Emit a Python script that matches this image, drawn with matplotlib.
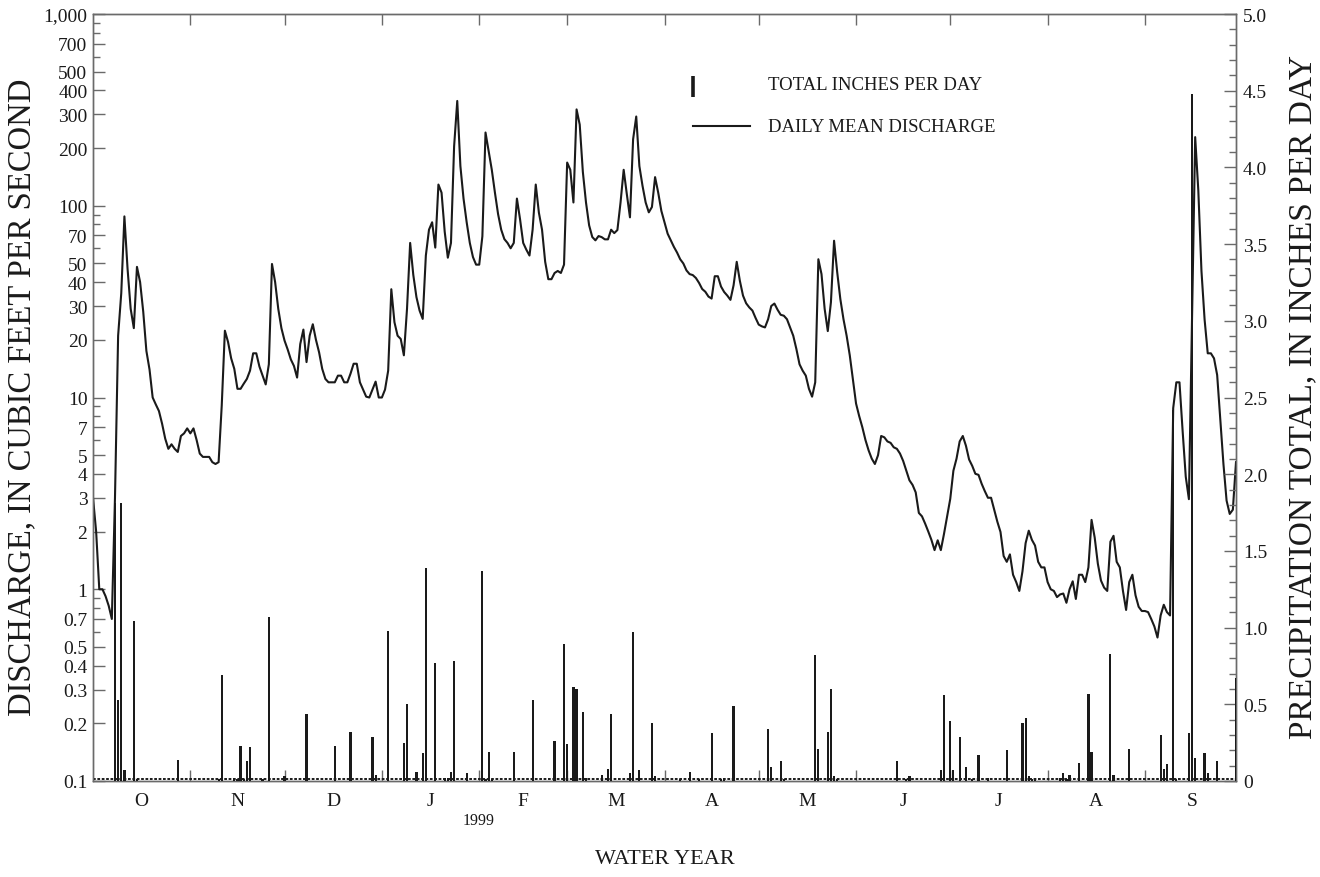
import numpy as np
import matplotlib
matplotlib.use("Agg")
import matplotlib.pyplot as plt
from matplotlib.ticker import FixedLocator, FixedFormatter, NullFormatter
from matplotlib.lines import Line2D

plt.rcParams['font.family'] = ['Liberation Serif', 'DejaVu Serif']

# Daily mean discharge, water year 1999 (cubic feet per second)
q_oct = [3.0, 2.0, 1.0, 1.0, 0.92, 0.82, 0.70, 3.0, 21, 35, 88, 47, 29, 23, 48, 40,
         28, 17.5, 14, 10, 9.2, 8.5, 7.3, 6.1, 5.4, 5.7, 5.4, 5.2, 6.3, 6.5, 6.9]
q_nov = [6.5, 6.9, 6.0, 5.1, 4.9, 4.9, 4.9, 4.6, 4.5, 4.6, 9.1, 22.3, 19.5, 16, 14.1,
         11.1, 11.1, 11.8, 12.5, 13.8, 17, 17, 14.5, 13, 11.7, 14.9, 49.7, 40, 29, 23]
q_dec = [19.8, 17.8, 15.8, 14.6, 12.7, 19, 22.6, 15.3, 21, 24.1, 20, 17.2, 14.1, 12.5,
         12, 12, 12, 13, 13, 12, 12, 13.3, 15, 15, 12, 11, 10.1, 10, 11, 12.1, 10]
q_jan = [10, 11, 13.8, 36.7, 24.7, 21, 20.2, 16.6, 29, 64, 43.6, 33.4, 28.4, 25.7, 55,
         75, 82, 60.5, 129, 117, 73.3, 53.6, 64, 204, 352, 161, 109, 82, 64, 54, 49.3]
q_feb = [49.3, 69.3, 241, 193, 154, 117, 90.5, 75, 67, 64, 60, 64, 109, 85, 64, 59,
         55, 75, 129, 92, 75, 51, 41.4, 41.4, 44.6, 45.7, 44.6, 49.3]
q_mar = [168, 154, 104, 318, 265, 150, 104, 79, 68.7, 66, 69.5, 68.6, 66.8, 66.8, 75,
         72, 74.7, 104, 154, 115, 87, 222, 292, 161, 127, 104, 92.4, 98.5, 141, 117, 94]
q_apr = [82, 71.5, 66, 61, 57, 52.6, 50, 46, 44, 43.5, 42, 39.6, 36.8, 35.6, 33.6,
         32.8, 42.9, 42.9, 37.9, 35.5, 34, 32.3, 38.5, 51, 40.6, 34, 31, 29.5, 28.4, 26]
q_may = [24, 23.5, 23.2, 25.6, 30, 30.9, 28.7, 27, 26.7, 25.6, 23.2, 21, 17.9, 14.9,
         13.8, 13, 11.1, 10.1, 12, 52.6, 44, 29, 22.2, 31.4, 65.7, 45, 32.6, 25.6, 21,
         16.6, 12.4]
q_jun = [9.3, 8.0, 7.0, 6.0, 5.3, 4.8, 4.5, 5.0, 6.3, 6.2, 5.9, 5.8, 5.5, 5.4, 5.1,
         4.67, 4.15, 3.7, 3.5, 3.2, 2.5, 2.4, 2.2, 2.0, 1.81, 1.6, 1.8, 1.6, 1.94, 2.4]
q_jul = [2.96, 4.15, 4.8, 5.9, 6.3, 5.6, 4.75, 4.4, 4.0, 3.95, 3.55, 3.25, 3.0, 3.0,
         2.6, 2.25, 1.99, 1.49, 1.39, 1.52, 1.19, 1.09, 0.98, 1.24, 1.74, 2.02, 1.81,
         1.69, 1.39, 1.3, 1.3]
q_aug = [1.09, 1.0, 0.98, 0.91, 0.94, 0.95, 0.85, 1.0, 1.1, 0.89, 1.19, 1.19, 1.09,
         1.3, 2.3, 1.86, 1.36, 1.11, 1.02, 0.98, 1.77, 1.9, 1.39, 1.3, 0.98, 0.78,
         1.09, 1.19, 0.93, 0.81, 0.77]
q_sep = [0.77, 0.76, 0.70, 0.64, 0.56, 0.73, 0.83, 0.76, 0.73, 8.8, 12, 12, 6.7, 3.86,
         2.95, 25, 228, 120, 45.7, 25.5, 17, 17, 16, 13.1, 7.7, 4.5, 2.9, 2.47, 2.6, 4.6]

# Daily precipitation totals (day of water year, inches); other days are zero
rain_day = [7, 8, 9, 10, 13, 14, 27, 40, 41, 45, 46, 47, 48, 49, 50, 54, 56, 61, 68,
            77, 82, 89, 90, 94, 99, 100, 103, 105, 106, 109, 112, 113, 114, 115, 119,
            124, 125, 126, 127, 134, 140, 147, 150, 151, 153, 154, 156, 157, 162, 164,
            165, 171, 172, 174, 178, 179, 187, 190, 193, 197, 200, 201, 204, 215, 216,
            219, 220, 230, 231, 234, 235, 236, 237, 256, 259, 260, 270, 271, 273, 274,
            276, 278, 280, 282, 285, 291, 296, 297, 298, 299, 300, 308, 309, 310, 311,
            314, 317, 318, 324, 325, 330, 340, 341, 342, 344, 345, 349, 350, 351, 354,
            355, 358, 364]
rain_in = [1.81, 0.53, 1.81, 0.07, 1.04, 0.01, 0.14, 0.01, 0.69, 0.02, 0.01, 0.23,
           0.01, 0.13, 0.22, 0.01, 1.07, 0.03, 0.44, 0.23, 0.32, 0.29, 0.04, 0.98,
           0.25, 0.50, 0.06, 0.18, 1.39, 0.77, 0.02, 0.02, 0.06, 0.78, 0.05, 1.37,
           0.01, 0.19, 0.01, 0.19, 0.53, 0.26, 0.89, 0.24, 0.61, 0.60, 0.45, 0.02,
           0.04, 0.08, 0.44, 0.05, 0.97, 0.07, 0.38, 0.035, 0.015, 0.06, 0.015, 0.31,
           0.015, 0.02, 0.49, 0.34, 0.09, 0.13, 0.015, 0.82, 0.21, 0.32, 0.60, 0.03,
           0.01, 0.13, 0.015, 0.03, 0.07, 0.56, 0.39, 0.07, 0.29, 0.09, 0.015, 0.17,
           0.02, 0.20, 0.38, 0.41, 0.03, 0.015, 0.015, 0.02, 0.05, 0.015, 0.04, 0.12,
           0.57, 0.19, 0.83, 0.04, 0.21, 0.30, 0.08, 0.11, 2.42, 0.015, 0.31, 4.48,
           0.15, 0.18, 0.05, 0.13, 0.67]

month_names = ['O', 'N', 'D', 'J', 'F', 'M', 'A', 'M', 'J', 'J', 'A', 'S']
month_days = [31, 30, 31, 31, 28, 31, 30, 31, 30, 31, 31, 30]

q_labels = [0.1, 0.2, 0.3, 0.4, 0.5, 0.7, 1, 2, 3, 4, 5, 7, 10, 20, 30, 40, 50, 70,
            100, 200, 300, 400, 500, 700, 1000]
p_labels = [0, 0.5, 1.0, 1.5, 2.0, 2.5, 3.0, 3.5, 4.0, 4.5, 5.0]

discharge = np.array(q_oct + q_nov + q_dec + q_jan + q_feb + q_mar + q_apr + q_may +
                     q_jun + q_jul + q_aug + q_sep)
days = np.arange(len(discharge))

ink = '#1a1a1a'
frame = '#6a6a6a'

fig = plt.figure(figsize=(13.2, 8.78), dpi=100)
ax = fig.add_axes([93 / 1320, 1 - 782 / 878, (1236 - 93) / 1320, (782 - 15) / 878])
ax2 = ax.twinx()

ax.plot(days, discharge, color=ink, lw=1.5, zorder=3)
ax.set_yscale('log')
ax.set_ylim(0.1, 1000)
ax.set_xlim(0, len(discharge) - 1)

ax2.bar(rain_day, rain_in, width=0.7, color=ink, linewidth=0, zorder=3)
ax2.axhline(0.012, color=ink, lw=1.4, linestyle=(0, (1.4, 0.85)), zorder=2)
ax2.set_ylim(0, 5)

for a in (ax, ax2):
    for s in a.spines.values():
        s.set_color(frame)
        s.set_linewidth(1.0)

# month boundaries as ticks, month initials centred between them
bounds = np.cumsum([0] + month_days)
centers = (bounds[:-1] + bounds[1:]) / 2
ax.xaxis.set_major_locator(FixedLocator(bounds[1:-1]))
ax.xaxis.set_major_formatter(NullFormatter())
ax.xaxis.set_minor_locator(FixedLocator(centers))
ax.xaxis.set_minor_formatter(FixedFormatter(month_names))
ax.tick_params(axis='x', which='major', direction='in', length=8, width=1,
               color=frame, top=True, bottom=True)
ax.tick_params(axis='x', which='minor', length=0, pad=8, labelsize=14,
               labelcolor=ink)

# log discharge axis
minor_q = [m * 10.0 ** e for e in range(-1, 3) for m in range(1, 10)
           if not any(abs(m * 10.0 ** e - v) < 1e-9 for v in q_labels)]
ax.yaxis.set_major_locator(FixedLocator(q_labels))
ax.yaxis.set_major_formatter(FixedFormatter(
    [f"{v:,.0f}" if v >= 1 else f"{v:g}" for v in q_labels]))
ax.yaxis.set_minor_locator(FixedLocator(minor_q))
ax.yaxis.set_minor_formatter(NullFormatter())
ax.tick_params(axis='y', which='major', direction='in', length=8.5, width=1,
               color=frame, labelsize=14, labelcolor=ink, pad=4)
ax.tick_params(axis='y', which='minor', direction='in', length=5, width=1,
               color=frame)

# precipitation axis
ax2.yaxis.set_major_locator(FixedLocator(p_labels))
ax2.yaxis.set_major_formatter(FixedFormatter(
    ['0'] + [f"{v:.1f}" for v in p_labels[1:]]))
ax2.yaxis.set_minor_locator(FixedLocator(np.round(np.arange(0, 5.01, 0.1), 1)))
ax2.tick_params(axis='y', which='major', direction='in', length=8.5, width=1,
                color=frame, labelsize=14, labelcolor=ink, pad=5)
ax2.tick_params(axis='y', which='minor', direction='in', length=5, width=1,
                color=frame)

fig.text(22 / 1320, 1 - 397 / 878, 'DISCHARGE, IN CUBIC FEET PER SECOND',
         rotation=90, ha='center', va='center', fontsize=23.5, color=ink)
fig.text(1303 / 1320, 1 - 397 / 878, 'PRECIPITATION TOTAL, IN INCHES PER DAY',
         rotation=90, ha='center', va='center', fontsize=24, color=ink)
fig.text(479 / 1320, 1 - 821 / 878, '1999', ha='center', va='center',
         fontsize=11.5, color=ink)
fig.text(665 / 1320, 1 - 860 / 878, 'WATER YEAR', ha='center', va='center',
         fontsize=16, color=ink)

# key
fig.add_artist(Line2D([693 / 1320, 693 / 1320], [1 - 98 / 878, 1 - 77 / 878],
                      color=ink, lw=2.6, solid_capstyle='butt'))
fig.add_artist(Line2D([693 / 1320, 750 / 1320], [1 - 127 / 878, 1 - 127 / 878],
                      color=ink, lw=1.5))
fig.text(768 / 1320, 1 - 85 / 878, 'TOTAL INCHES PER DAY', ha='left', va='center',
         fontsize=13.5, color=ink)
fig.text(768 / 1320, 1 - 127 / 878, 'DAILY MEAN DISCHARGE', ha='left', va='center',
         fontsize=13.5, color=ink)

fig.savefig('out.png', dpi=100)
